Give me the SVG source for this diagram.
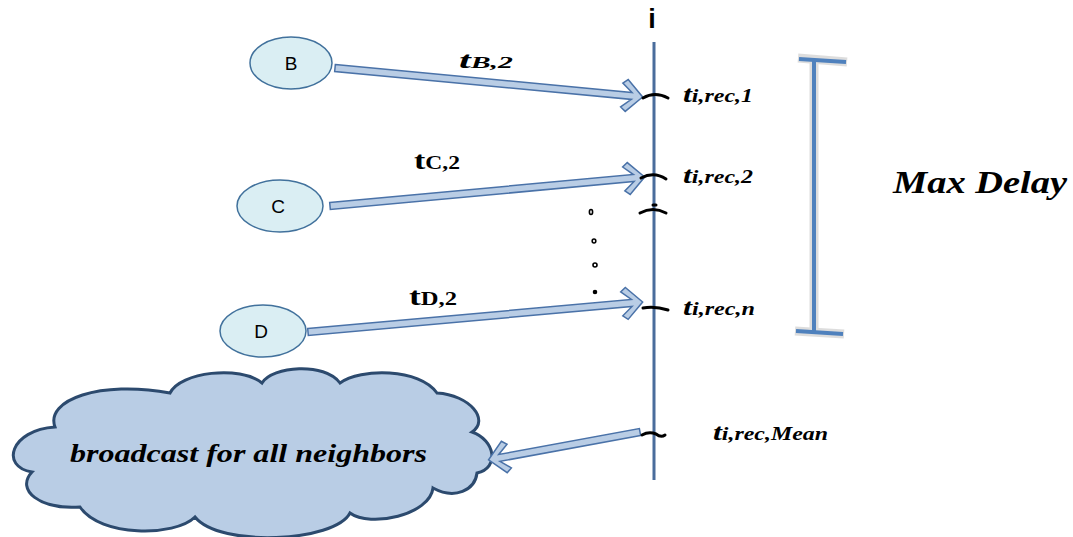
<svg xmlns="http://www.w3.org/2000/svg" width="1073" height="537" viewBox="0 0 1073 537">
<style>
.node{fill:#DAEEF3;stroke:#41719C;stroke-width:1.5}
.nl{font-family:"Liberation Sans",Arial,sans-serif;font-size:19px;fill:#000;text-anchor:middle}
.arr{fill:#B9CDE5;stroke:#4A72A8;stroke-width:1.5;stroke-linejoin:miter}
.tk{fill:none;stroke:#000;stroke-width:3;stroke-linecap:round}
.lb{font-family:"Liberation Serif","Times New Roman",serif;font-weight:bold;font-style:italic;fill:#000}
.lu{font-family:"Liberation Serif","Times New Roman",serif;font-weight:bold;fill:#000}
</style>
<rect width="1073" height="537" fill="#fff"/>
<g id="timeline">
<line x1="654" y1="42" x2="654" y2="480" stroke="#4A6D9C" stroke-width="3"/>
<text x="652" y="28" font-family="Liberation Sans,Arial,sans-serif" font-weight="bold" font-size="27" text-anchor="middle">i</text>
</g>
<g id="node-B"><ellipse class="node" cx="291" cy="63" rx="41" ry="26"/><text class="nl" x="291" y="70">B</text></g>
<g id="node-C"><ellipse class="node" cx="280" cy="206" rx="43" ry="26"/><text class="nl" x="278" y="213">C</text></g>
<g id="node-D"><ellipse class="node" cx="263" cy="331" rx="43" ry="26"/><text class="nl" x="261" y="338">D</text></g>
<g id="cloud">
<path d="M32,472 C0,467 10,430 55,427 C45,400 100,380 170,393 C180,372 240,365 262,383 C272,366 325,362 340,383 C360,368 420,368 437,393 C470,395 490,420 472,432 C495,440 500,468 477,473 C475,490 455,500 433,488 C430,515 370,528 350,513 C335,542 220,548 195,517 C175,537 100,537 80,507 C40,510 15,490 32,472 Z" fill="#B9CDE5" stroke="#2C4A6E" stroke-width="3"/>
<text class="lb" x="70" y="462" font-size="26" textLength="357" lengthAdjust="spacingAndGlyphs">broadcast for all neighbors</text>
</g>
<g id="connectors">
<g transform="translate(335,68) rotate(5.38)"><polygon class="arr" points="0,-3.5 298,-3.5 288,-12 293,-16 309,0 293,16 288,12 298,3.5 0,3.5"/></g>
<g transform="translate(330,206) rotate(-5.26)"><polygon class="arr" points="0,-3.5 305,-3.5 295,-12 300,-16 316,0 300,16 295,12 305,3.5 0,3.5"/></g>
<g transform="translate(308,332) rotate(-5.12)"><polygon class="arr" points="0,-3.5 325,-3.5 315,-12 320,-16 336,0 320,16 315,12 325,3.5 0,3.5"/></g>
<g transform="translate(640,432) rotate(169.56)"><polygon class="arr" points="0,-3.5 143,-3.5 133,-12 138,-16 154,0 138,16 133,12 143,3.5 0,3.5"/></g>
</g>
<g id="ticks">
<path class="tk" d="M643,98 Q655,91 668,98"/>
<path class="tk" d="M641,178 Q654,171 666,179"/>
<path class="tk" d="M640,213 Q653,206 666,213"/>
<path class="tk" d="M653,205 L656,205" stroke-width="2"/>
<path class="tk" d="M643,308 Q655,306 668,310"/>
<path class="tk" d="M642,435 Q649,431 656,434 Q661,438 665,435"/>
</g>
<g id="dots" fill="none" stroke="#000" stroke-width="1.6">
<ellipse cx="591" cy="212" rx="1.6" ry="2.5"/>
<ellipse cx="594" cy="241" rx="1.8" ry="2"/>
<ellipse cx="595" cy="265" rx="2" ry="2"/>
<circle cx="595" cy="292" r="1.5" fill="#000"/>
</g>
<g id="labels">
<text class="lb" x="459" y="68" font-size="24" textLength="54" lengthAdjust="spacingAndGlyphs">t<tspan font-size="17">B,2</tspan></text>
<text class="lu" x="414" y="169" font-size="26" textLength="46" lengthAdjust="spacingAndGlyphs">t<tspan font-size="18">C,2</tspan></text>
<text class="lu" x="409" y="305" font-size="26" textLength="48" lengthAdjust="spacingAndGlyphs">t<tspan font-size="18">D,2</tspan></text>
<text class="lb" x="683" y="102" font-size="24" textLength="70" lengthAdjust="spacingAndGlyphs">t<tspan font-size="18">i,rec,1</tspan></text>
<text class="lb" x="683" y="183" font-size="24" textLength="70" lengthAdjust="spacingAndGlyphs">t<tspan font-size="18">i,rec,2</tspan></text>
<text class="lb" x="683" y="315" font-size="24" textLength="72" lengthAdjust="spacingAndGlyphs">t<tspan font-size="18">i,rec,n</tspan></text>
<text class="lb" x="713" y="440" font-size="24" textLength="115" lengthAdjust="spacingAndGlyphs">t<tspan font-size="18">i,rec,Mean</tspan></text>
</g>
<g id="maxdelay">
<g stroke="#C8C8C8" stroke-width="9" opacity="0.6" fill="none">
<line x1="814" y1="60" x2="814" y2="333"/>
<line x1="798" y1="58" x2="847" y2="62"/>
<line x1="795" y1="331" x2="844" y2="334"/>
</g>
<g stroke="#4F81BD" stroke-width="4" fill="none">
<line x1="814" y1="60" x2="814" y2="333"/>
<line x1="799" y1="59" x2="846" y2="62"/>
<line x1="796" y1="331" x2="843" y2="334"/>
</g>
<text class="lb" x="893" y="193" font-size="31" textLength="174" lengthAdjust="spacingAndGlyphs">Max Delay</text>
</g>
</svg>
